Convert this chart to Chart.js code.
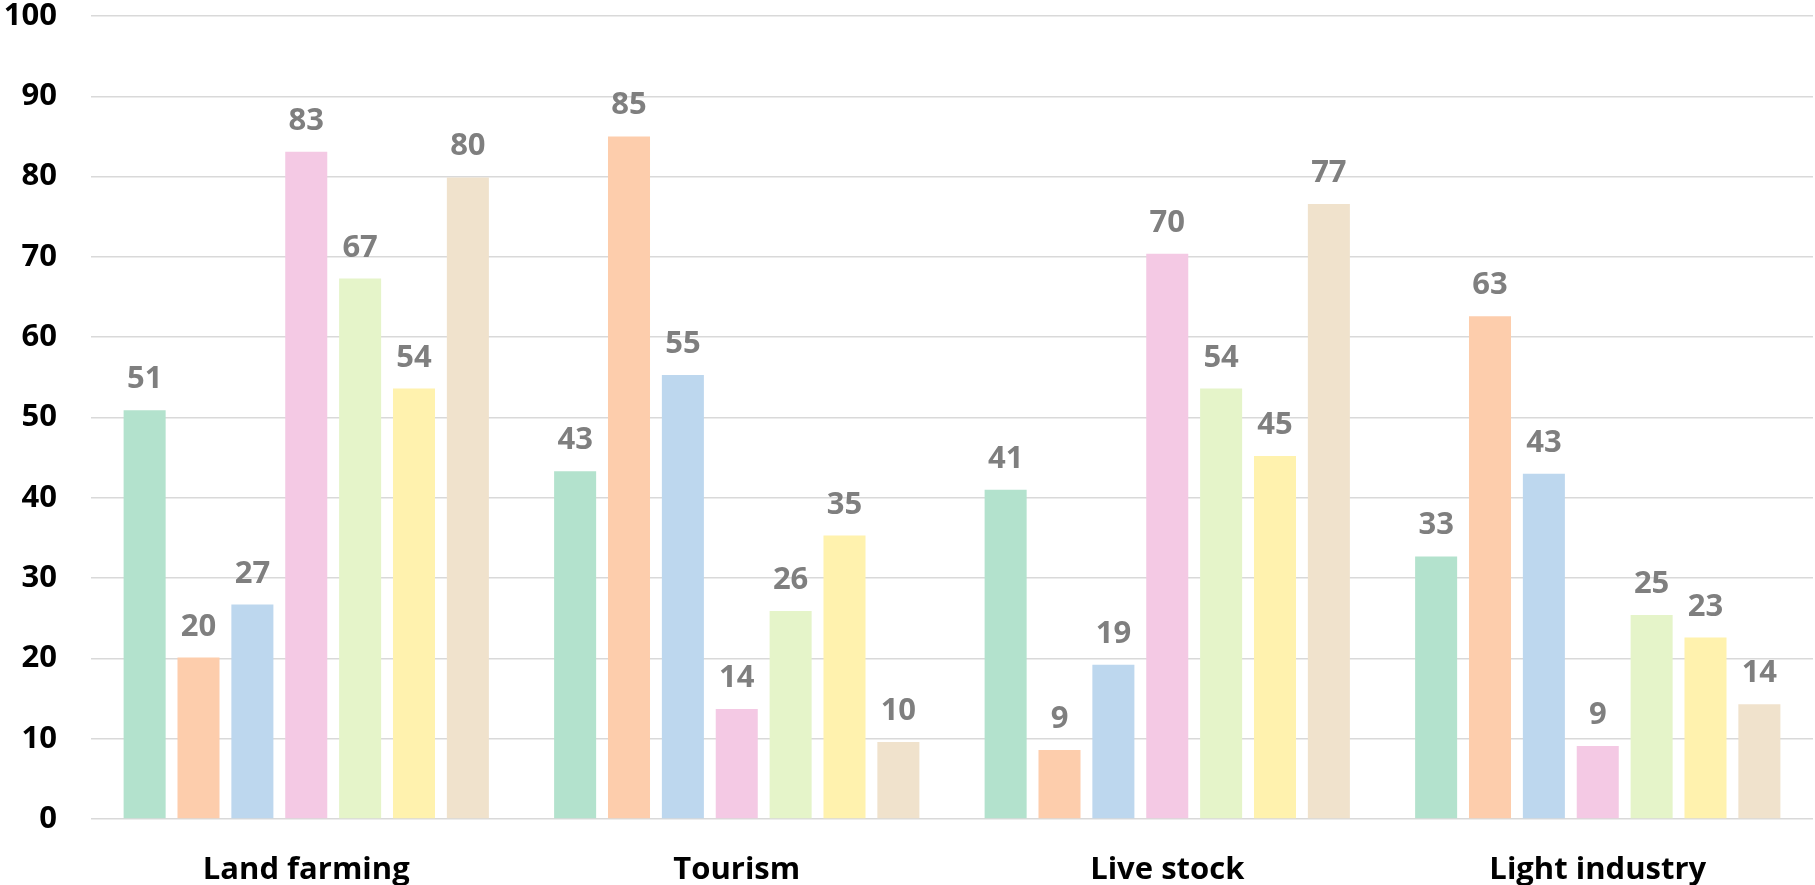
<!DOCTYPE html>
<html>
<head>
<meta charset="utf-8">
<script src="https://cdn.jsdelivr.net/npm/chart.js@4/dist/chart.umd.min.js"></script>
<style>
html,body{margin:0;padding:0;background:#fff;}
#wrap{width:1815px;height:885px;}
</style>
</head>
<body>
<div id="wrap"><canvas id="c" width="1815" height="885"></canvas></div>
<script>
const categories = ["Land farming", "Tourism", "Live stock", "Light industry"];
const series1 = [50.9, 43.3, 41.0, 32.7];
const series2 = [20.1, 85.0, 8.6, 62.6];
const series3 = [26.7, 55.3, 19.2, 43.0];
const series4 = [83.1, 13.7, 70.4, 9.1];
const series5 = [67.3, 25.9, 53.6, 25.4];
const series6 = [53.6, 35.3, 45.2, 22.6];
const series7 = [79.9, 9.6, 76.6, 14.3];
const yTicks = [0, 10, 20, 30, 40, 50, 60, 70, 80, 90, 100];

const colors = ["#b3e2cd", "#fdcdac", "#bdd7ee", "#f4c9e4", "#e5f4c9", "#fff2ae", "#f0e2cc"];
const allSeries = [series1, series2, series3, series4, series5, series6, series7];

const FONT = "'Open Sans', Lato, sans-serif";

const labelPlugin = {
  id: 'barLabels',
  afterDatasetsDraw(chart) {
    const ctx = chart.ctx;
    ctx.save();
    ctx.font = "bold 31px " + FONT;
    ctx.fillStyle = "#7f7f7f";
    ctx.textAlign = "center";
    ctx.textBaseline = "alphabetic";
    chart.data.datasets.forEach((ds, i) => {
      const meta = chart.getDatasetMeta(i);
      meta.data.forEach((bar, j) => {
        ctx.fillText(String(Math.round(ds.data[j])), bar.x, bar.y - 22);
      });
    });
    ctx.restore();
  }
};

new Chart(document.getElementById('c'), {
  type: 'bar',
  data: {
    labels: categories,
    datasets: allSeries.map((s, i) => ({
      label: 'S' + (i + 1),
      data: s,
      backgroundColor: colors[i],
      borderWidth: 0,
      categoryPercentage: 0.876,
      barPercentage: 0.78
    }))
  },
  options: {
    responsive: false,
    animation: false,
    devicePixelRatio: 1,
    layout: { padding: { top: 0, right: 2, left: 0, bottom: 0 } },
    plugins: { legend: { display: false }, tooltip: { enabled: false } },
    scales: {
      x: {
        grid: { display: false },
        border: { display: false },
        ticks: {
          color: "#000",
          font: { family: FONT, size: 31, weight: 'bold', lineHeight: 1 },
          padding: 28,
          maxRotation: 0
        },
        afterFit(scale) { scale.height = 66; scale.paddingLeft = 0; scale.paddingRight = 0; }
      },
      y: {
        min: 0,
        max: 100,
        afterBuildTicks(scale) { scale.ticks = yTicks.map(v => ({ value: v })); },
        grid: { color: "#d9d9d9", lineWidth: 1.5, drawTicks: false },
        border: { display: false },
        ticks: {
          color: "#000",
          font: { family: FONT, size: 31, weight: 'bold', lineHeight: 1 },
          padding: 34
        },
        afterFit(scale) { scale.width = 91; scale.paddingTop = 16; scale.paddingBottom = 0; }
      }
    }
  },
  plugins: [labelPlugin]
});
</script>
</body>
</html>
